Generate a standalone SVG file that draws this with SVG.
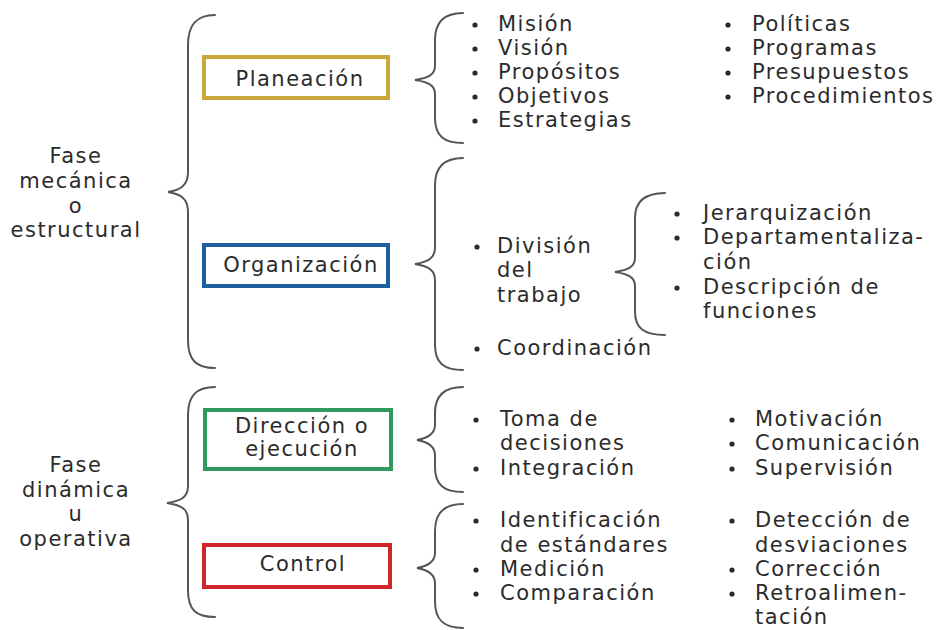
<svg xmlns="http://www.w3.org/2000/svg" width="937" height="630" viewBox="0 0 937 630">
<style>
text{font-family:"DejaVu Sans","Liberation Sans",sans-serif;font-size:21px;fill:#2b2b2b;letter-spacing:1.5px}
.c{text-anchor:middle}
.brace{fill:none;stroke:#555;stroke-width:2;stroke-linecap:round}
.box{fill:#fff;stroke-width:4}
.dot{fill:#2b2b2b}
</style>
<defs>
<circle id="b" r="2.6" class="dot"/>
</defs>
<rect width="937" height="630" fill="#fff"/>
<g id="connectors">
<path class="brace" d="M215 15 C196 15 188 25 188 45 L188 172 C188 186 180 190 168 192 C180 194 188 198 188 212 L188 340 C188 360 196 368 215 368"/>
<path class="brace" d="M463 13 C444 13 435 22 435 40 L435 66 C435 75 428 78 415 80 C428 82 435 85 435 94 L435 118 C435 136 444 143 463 143"/>
<path class="brace" d="M463 158 C444 158 435 167 435 185 L435 248 C435 258 428 262 415 264 C428 266 435 270 435 280 L435 345 C435 363 444 370 463 370"/>
<path class="brace" d="M665 193 C644 193 635 202 635 218 L635 258 C635 267 628 270 615 272 C628 274 635 277 635 286 L635 312 C635 328 644 335 665 335"/>
<path class="brace" d="M215 387 C196 387 188 396 188 415 L188 486 C188 498 180 501 167 503 C180 505 188 508 188 520 L188 590 C188 610 196 617 215 617"/>
<path class="brace" d="M463 387 C444 387 435 396 435 413 L435 425 C435 434 428 438 417 440 C428 442 435 446 435 455 L435 467 C435 485 444 492 463 492"/>
<path class="brace" d="M463 504 C444 504 435 513 435 531 L435 553 C435 562 428 566 417 568 C428 570 435 574 435 583 L435 602 C435 620 444 628 463 628"/>
</g>
<g id="fase-mecanica">
<text class="c" x="76" y="163">Fase</text>
<text class="c" x="76" y="188">mecánica</text>
<text class="c" x="76" y="213">o</text>
<text class="c" x="76" y="237">estructural</text>
</g>
<g id="fase-dinamica">
<text class="c" x="76" y="472">Fase</text>
<text class="c" x="76" y="497">dinámica</text>
<text class="c" x="76" y="521">u</text>
<text class="c" x="76" y="546">operativa</text>
</g>
<g id="planeacion">
<rect class="box" x="204" y="57" width="184" height="41" stroke="#c8a83a"/>
<text class="c" x="300" y="86">Planeación</text>
</g>
<g id="organizacion">
<rect class="box" x="204" y="245" width="184" height="41" stroke="#1d5fa0"/>
<text class="c" x="301" y="272">Organización</text>
</g>
<g id="direccion">
<rect class="box" x="205" y="410" width="186" height="59" stroke="#2f9a5c"/>
<text class="c" x="302" y="433">Dirección o</text>
<text class="c" x="302" y="456">ejecución</text>
</g>
<g id="control">
<rect class="box" x="204" y="545" width="186" height="42" stroke="#d0262a"/>
<text class="c" x="303" y="571">Control</text>
</g>
<g id="planeacion-items">
<use href="#b" x="475" y="25"/><text x="498" y="31">Misión</text>
<use href="#b" x="475" y="49"/><text x="498" y="55">Visión</text>
<use href="#b" x="475" y="73"/><text x="498" y="79">Propósitos</text>
<use href="#b" x="475" y="97"/><text x="498" y="103">Objetivos</text>
<use href="#b" x="475" y="121"/><text x="498" y="127">Estrategias</text>
<use href="#b" x="728" y="25"/><text x="752" y="31">Políticas</text>
<use href="#b" x="728" y="49"/><text x="752" y="55">Programas</text>
<use href="#b" x="728" y="73"/><text x="752" y="79">Presupuestos</text>
<use href="#b" x="728" y="97"/><text x="752" y="103">Procedimientos</text>
</g>
<g id="organizacion-items">
<use href="#b" x="477" y="247"/><text x="497" y="253">División</text>
<text x="497" y="277">del</text>
<text x="497" y="302">trabajo</text>
<use href="#b" x="477" y="349"/><text x="497" y="355">Coordinación</text>
</g>
<g id="division-items">
<use href="#b" x="677" y="214"/><text x="703" y="220">Jerarquización</text>
<use href="#b" x="677" y="238"/><text x="703" y="244">Departamentaliza-</text>
<text x="703" y="269">ción</text>
<use href="#b" x="677" y="288"/><text x="703" y="294">Descripción de</text>
<text x="703" y="318">funciones</text>
</g>
<g id="direccion-items">
<use href="#b" x="476" y="420"/><text x="500" y="426">Toma de</text>
<text x="500" y="450">decisiones</text>
<use href="#b" x="476" y="469"/><text x="500" y="475">Integración</text>
<use href="#b" x="732" y="420"/><text x="755" y="426">Motivación</text>
<use href="#b" x="732" y="444"/><text x="755" y="450">Comunicación</text>
<use href="#b" x="732" y="469"/><text x="755" y="475">Supervisión</text>
</g>
<g id="control-items">
<use href="#b" x="476" y="521"/><text x="500" y="527">Identificación</text>
<text x="500" y="552">de estándares</text>
<use href="#b" x="476" y="570"/><text x="500" y="576">Medición</text>
<use href="#b" x="476" y="594"/><text x="500" y="600">Comparación</text>
<use href="#b" x="732" y="521"/><text x="755" y="527">Detección de</text>
<text x="755" y="552">desviaciones</text>
<use href="#b" x="732" y="570"/><text x="755" y="576">Corrección</text>
<use href="#b" x="732" y="594"/><text x="755" y="600">Retroalimen-</text>
<text x="755" y="624">tación</text>
</g>
</svg>
